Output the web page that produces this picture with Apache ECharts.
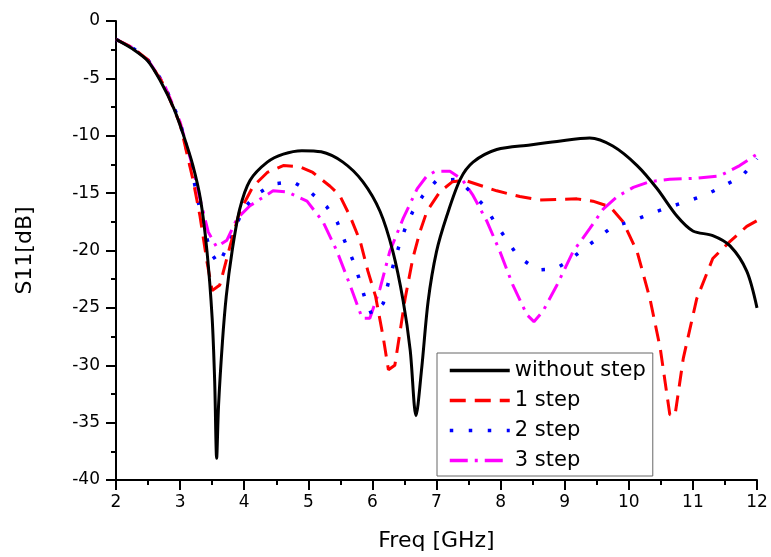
<!DOCTYPE html>
<html>
<head>
<meta charset="utf-8">
<script src="https://cdn.jsdelivr.net/npm/echarts@6/dist/echarts.min.js"></script>
<style>
html,body{margin:0;padding:0;background:#fff;}
#chart{width:771px;height:557px;}
</style>
</head>
<body>
<div id="chart"></div>
<script>
// ---- data ----
const seriesNames = ['without step', '1 step', '2 step', '3 step'];

const freqBlack = [2.0,2.25,2.5,2.7,2.9,3.05,3.2,3.32,3.42,3.5,3.54,3.57,3.6,3.66,3.72,3.81,3.93,4.09,4.36,4.61,4.9,5.2,5.54,5.85,6.12,6.32,6.48,6.59,6.68,6.77,6.87,7.0,7.16,7.37,7.57,7.94,8.46,8.88,9.39,9.75,10.13,10.44,10.75,11.0,11.31,11.58,11.84,12.0];
const s11Black  = [-1.6,-2.4,-3.5,-5.3,-7.6,-9.9,-12.6,-15.6,-20.1,-25.9,-31.5,-38.1,-33.5,-28,-24,-20.1,-16.4,-13.9,-12.3,-11.6,-11.3,-11.4,-12.3,-14.0,-16.6,-20.1,-24.4,-28.7,-34.4,-30.2,-24.4,-20.1,-17.0,-13.8,-12.3,-11.2,-10.8,-10.5,-10.2,-10.9,-12.6,-14.6,-17.0,-18.3,-18.7,-19.6,-21.8,-25.0];

const freqRed = [2.0,2.25,2.5,2.75,3.0,3.2,3.31,3.42,3.5,3.62,3.78,3.93,4.14,4.36,4.61,4.87,5.07,5.34,5.49,5.65,5.81,5.93,6.05,6.17,6.25,6.35,6.42,6.51,6.63,6.74,6.85,7.05,7.25,7.45,7.94,8.3,8.61,9.19,9.44,9.71,9.91,10.13,10.33,10.49,10.64,10.72,10.85,11.06,11.31,11.58,11.84,12.0];
const s11Red  = [-1.6,-2.3,-3.4,-5.6,-9.0,-13.8,-17.0,-21.0,-23.5,-23.0,-19.6,-16.6,-14.4,-13.2,-12.6,-12.7,-13.2,-14.4,-15.2,-17.0,-19.2,-21.8,-24.0,-27.6,-30.4,-30.0,-27.5,-24.2,-20.7,-18.4,-16.6,-14.9,-14.0,-13.9,-14.8,-15.3,-15.6,-15.5,-15.7,-16.2,-17.5,-20.1,-24.2,-28.5,-34.3,-34.4,-29.4,-24.2,-20.7,-19.2,-17.9,-17.4];

const freqBlue = [2.0,2.25,2.5,2.75,3.0,3.2,3.33,3.47,3.6,3.78,3.98,4.2,4.45,4.76,5.03,5.29,5.45,5.57,5.7,5.79,5.88,5.99,6.17,6.24,6.32,6.41,6.51,6.63,6.79,7.0,7.34,7.76,7.94,8.1,8.27,8.57,8.85,9.04,9.24,9.5,9.75,10.07,10.33,10.64,10.92,11.22,11.47,11.77,12.0];
const s11Blue  = [-1.6,-2.3,-3.4,-5.5,-8.8,-13.5,-17.0,-20.1,-21.2,-19.2,-16.4,-15.1,-14.2,-14.0,-14.9,-16.2,-17.5,-19.2,-20.9,-22.4,-24.1,-25.6,-24.6,-23.0,-21.4,-19.7,-18.1,-16.6,-15.2,-13.9,-13.8,-16.2,-17.8,-19.1,-20.5,-21.7,-21.6,-21.0,-20.1,-19.0,-17.9,-17.4,-16.8,-16.2,-15.7,-15.1,-14.4,-13.5,-12.0];

const freqMag = [2.0,2.25,2.5,2.75,3.0,3.19,3.31,3.44,3.57,3.73,3.89,4.09,4.45,4.67,4.98,5.23,5.45,5.65,5.84,5.96,6.12,6.27,6.48,6.7,6.85,6.98,7.21,7.4,7.57,7.79,7.99,8.19,8.41,8.52,8.66,8.88,9.13,9.39,9.6,9.82,10.07,10.33,10.64,11.06,11.42,11.73,12.0];
const s11Mag  = [-1.6,-2.3,-3.4,-5.5,-8.8,-12.6,-15.5,-18.4,-19.7,-19.1,-17.2,-16.1,-14.8,-14.9,-15.7,-17.5,-20.1,-23.0,-25.9,-25.9,-23.3,-20.1,-17.2,-14.6,-13.5,-13.1,-13.1,-13.8,-15.2,-17.5,-20.1,-23.0,-25.6,-26.2,-25.3,-23.0,-20.1,-18.1,-16.4,-15.3,-14.5,-14.0,-13.8,-13.7,-13.5,-12.6,-11.6];

const xTicks = [2,3,4,5,6,7,8,9,10,11,12];
const yTicks = [0,-5,-10,-15,-20,-25,-30,-35,-40];

function pairs(xs, ys){ return xs.map((x,i)=>[x, ys[i]]); }

const FONT = 'DejaVu Sans';
const chart = echarts.init(document.getElementById('chart'), null, {renderer:'canvas'});

const axisCommon = {
  axisLine:{show:true, onZero:false, lineStyle:{color:'#000', width:2}},
  axisTick:{show:true, inside:false, length:10, lineStyle:{color:'#000', width:2}},
  minorTick:{show:true, splitNumber:2, length:5, lineStyle:{color:'#000', width:2}},
  splitLine:{show:false},
  minorSplitLine:{show:false},
  axisLabel:{color:'#000', fontFamily:FONT, fontSize:17}
};

chart.setOption({
  animation:false,
  backgroundColor:'#fff',
  grid:{left:116, right:14, top:21, bottom:74, containLabel:false},
  xAxis:Object.assign({}, axisCommon, {
    type:'value', min:xTicks[0], max:xTicks[xTicks.length-1], interval:1,
    name:'Freq [GHz]', nameLocation:'middle', nameGap:50,
    nameTextStyle:{color:'#000', fontFamily:FONT, fontSize:22},
    axisLabel:Object.assign({}, axisCommon.axisLabel, {margin:14})
  }),
  yAxis:Object.assign({}, axisCommon, {
    type:'value', min:yTicks[yTicks.length-1], max:yTicks[0], interval:5,
    name:'S11[dB]', nameLocation:'middle', nameGap:80, nameRotate:90,
    nameTextStyle:{color:'#000', fontFamily:FONT, fontSize:22},
    axisLabel:Object.assign({}, axisCommon.axisLabel, {margin:16})
  }),
  legend:{
    show:true, orient:'vertical', left:437, top:353,
    padding:[7,7,5,11], itemGap:9, itemWidth:60, itemHeight:14,
    borderColor:'#666', borderWidth:1, backgroundColor:'#fff',
    itemStyle:{opacity:0},
    lineStyle:{width:3.5},
    textStyle:{color:'#000', fontFamily:FONT, fontSize:21},
    data:seriesNames
  },
  series:[
    {name:seriesNames[0], type:'line', data:pairs(freqBlack, s11Black), symbol:'none', smooth:0.3, z:5,
     lineStyle:{color:'#000000', width:3, type:'solid'}, itemStyle:{color:'#000000'}},
    {name:seriesNames[1], type:'line', data:pairs(freqRed, s11Red), symbol:'none', smooth:false, z:4,
     lineStyle:{color:'#ff0000', width:3, type:[16,9]}, itemStyle:{color:'#ff0000'}},
    {name:seriesNames[2], type:'line', data:pairs(freqBlue, s11Blue), symbol:'none', smooth:false, z:3,
     lineStyle:{color:'#0000ff', width:3.5, type:[3.5,15.5]}, itemStyle:{color:'#0000ff'}},
    {name:seriesNames[3], type:'line', data:pairs(freqMag, s11Mag), symbol:'none', smooth:false, z:2,
     lineStyle:{color:'#ff00ff', width:3, type:[18,7,3,7]}, itemStyle:{color:'#ff00ff'}}
  ]
});
</script>
</body>
</html>
